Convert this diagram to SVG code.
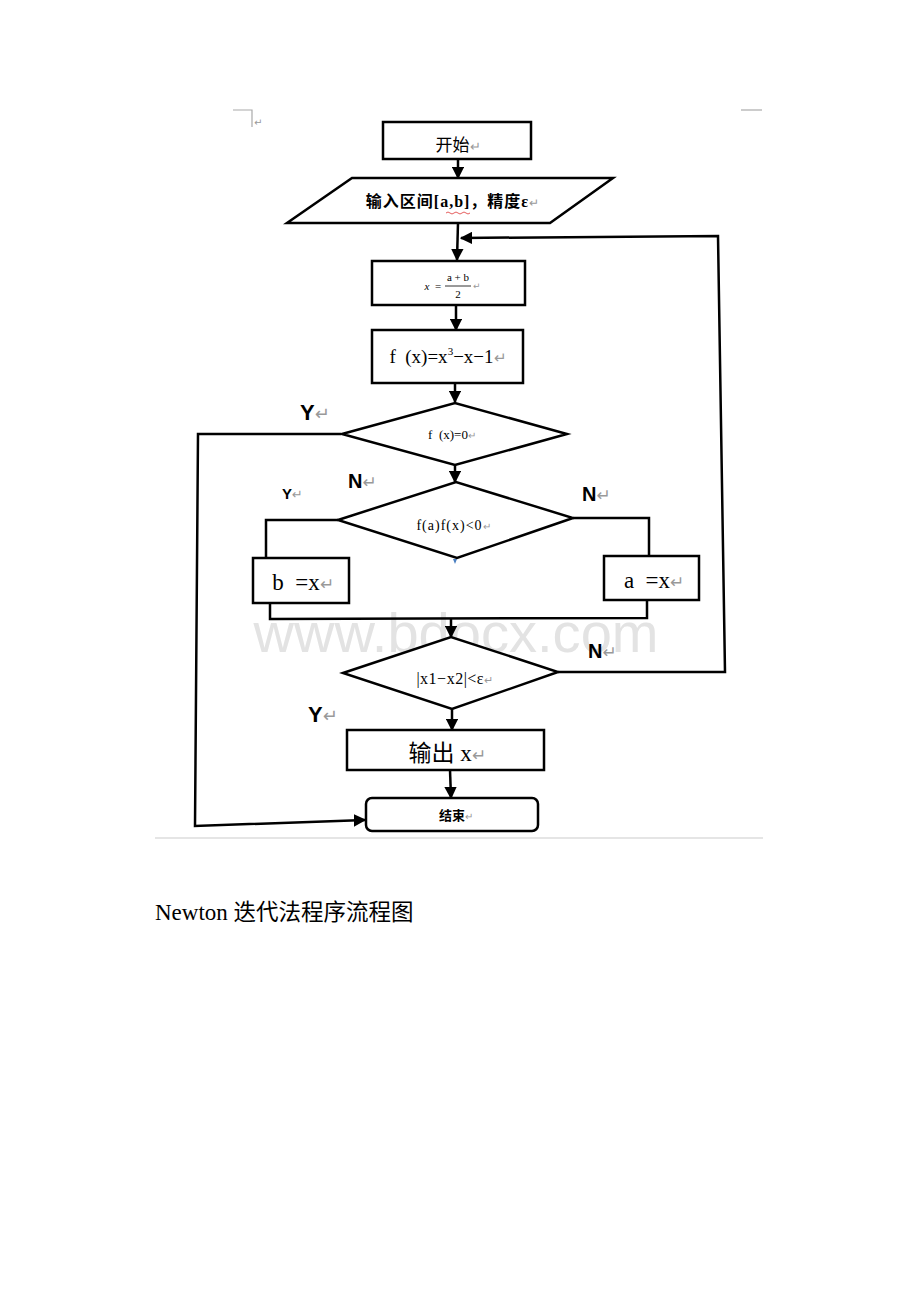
<svg xmlns="http://www.w3.org/2000/svg" width="920" height="1302" viewBox="0 0 920 1302">
<style>
.box{fill:#fff;stroke:#000;stroke-width:2.5}
.ln{fill:none;stroke:#000;stroke-width:2.5}
.t{font-family:"Liberation Serif","Noto Sans CJK SC",serif;fill:#000;text-anchor:middle;white-space:pre}
.yn{font-family:"Liberation Sans","DejaVu Sans",sans-serif;font-weight:bold;fill:#000}
.rm{fill:#999;font-weight:normal}
.mark{stroke:#aaa;stroke-width:1.2;fill:none}
</style>
<defs>
<marker id="ah" viewBox="0 0 10 10" refX="9" refY="5" markerWidth="5" markerHeight="5" orient="auto"><path d="M0,0 L10,5 L0,10 z" fill="#000"/></marker>
</defs>
<rect width="920" height="1302" fill="#fff"/>
<g id="page-marks">
<path class="mark" d="M233,110 H252 V127"/>
<text x="254" y="126" font-family="DejaVu Sans,sans-serif" font-size="10" fill="#999">↵</text>
<path class="mark" d="M741,110 H762"/>
<line x1="155" y1="838" x2="763" y2="838" stroke="#ddd" stroke-width="1.5"/>
</g>
<text x="456" y="652" font-family="Liberation Sans,sans-serif" font-size="56" fill="#e3e3e3" text-anchor="middle" textLength="405" lengthAdjust="spacingAndGlyphs">www.bdocx.com</text>
<g id="connectors">
<line class="ln" x1="458" y1="159" x2="458" y2="178" marker-end="url(#ah)"/>
<line class="ln" x1="458" y1="223" x2="457" y2="260" marker-end="url(#ah)"/>
<polyline class="ln" points="558,672 725,672 718,236 461,238" marker-end="url(#ah)"/>
<line class="ln" x1="456" y1="305" x2="456" y2="330" marker-end="url(#ah)"/>
<line class="ln" x1="455" y1="383" x2="455" y2="402" marker-end="url(#ah)"/>
<polyline class="ln" points="341,434 198,434 195,826 365,820" marker-end="url(#ah)"/>
<line class="ln" x1="455" y1="465" x2="455" y2="482" marker-end="url(#ah)"/>
<polyline class="ln" points="338,520 266,520 266,558"/>
<polyline class="ln" points="573,518 649,518 649,556"/>
<polyline class="ln" points="270,603 270,619 647,618 647,600"/>
<line class="ln" x1="451" y1="619" x2="451" y2="637" marker-end="url(#ah)"/>
<line class="ln" x1="452" y1="709" x2="452" y2="730" marker-end="url(#ah)"/>
<line class="ln" x1="450" y1="770" x2="451" y2="798" marker-end="url(#ah)"/>
<path d="M453,559 l4,0 l-2,5 z" fill="#4a7fc1"/>
</g>
<g id="start">
<rect class="box" x="383" y="122" width="148" height="37"/>
<text class="t" x="458" y="151" font-size="17">开始<tspan class="rm" font-size="13">↵</tspan></text>
</g>
<g id="input">
<polygon class="box" points="352,178 613,178 550,223 287,223"/>
<text class="t" x="453" y="207" font-size="16" font-weight="bold" letter-spacing="1">输入区间[a,b]，精度ε<tspan class="rm" font-size="12">↵</tspan></text>
<path d="M446,213 q2,-2 4,0 t4,0 t4,0 t4,0 t4,0 t4,0" stroke="#d33" stroke-width="0.8" fill="none"/>
</g>
<g id="mid">
<rect class="box" x="372" y="261" width="153" height="44"/>
<text class="t" x="427" y="290" font-size="11" font-style="italic">x</text>
<text class="t" x="438" y="290" font-size="11">=</text>
<text class="t" x="458" y="281" font-size="11">a + b</text>
<line x1="445" y1="286" x2="471" y2="286" stroke="#000" stroke-width="0.8"/>
<text class="t" x="458" y="298" font-size="11">2</text>
<text x="473" y="289" font-size="9" fill="#999" font-family="DejaVu Sans,sans-serif">↵</text>
</g>
<g id="fx">
<rect class="box" x="372" y="330" width="151" height="53"/>
<text class="t" x="448" y="363" font-size="19">f  (x)=x<tspan font-size="11" dy="-8">3</tspan><tspan dy="8">−x−1</tspan><tspan class="rm" font-size="15">↵</tspan></text>
</g>
<g id="dec1">
<polygon class="box" points="342,434 455,403 567,434 455,465"/>
<text class="t" x="452" y="439" font-size="13">f  (x)=0<tspan class="rm" font-size="10">↵</tspan></text>
<text class="yn" x="300" y="420" font-size="22">Y<tspan class="rm" font-size="18">↵</tspan></text>
<text class="yn" x="348" y="488" font-size="20">N<tspan class="rm" font-size="17">↵</tspan></text>
</g>
<g id="dec2">
<polygon class="box" points="338,520 456,482 573,518 457,558"/>
<text class="t" x="454" y="530" font-size="14" letter-spacing="1">f(a)f(x)&lt;0<tspan class="rm" font-size="10">↵</tspan></text>
<text class="yn" x="282" y="499" font-size="15">Y<tspan class="rm" font-size="13">↵</tspan></text>
<text class="yn" x="582" y="501" font-size="20">N<tspan class="rm" font-size="17">↵</tspan></text>
</g>
<g id="bx">
<rect class="box" x="253" y="558" width="96" height="45"/>
<text class="t" x="303" y="590" font-size="23">b  =x<tspan class="rm" font-size="17">↵</tspan></text>
</g>
<g id="ax">
<rect class="box" x="604" y="556" width="95" height="44"/>
<text class="t" x="654" y="588" font-size="23">a  =x<tspan class="rm" font-size="17">↵</tspan></text>
</g>
<g id="dec3">
<polygon class="box" points="343,673 451,637 558,672 452,709"/>
<text class="t" x="455" y="684" font-size="16" letter-spacing="0.5">|x1−x2|&lt;ε<tspan class="rm" font-size="11">↵</tspan></text>
<text class="yn" x="588" y="658" font-size="20">N<tspan class="rm" font-size="17">↵</tspan></text>
<text class="yn" x="308" y="722" font-size="22">Y<tspan class="rm" font-size="18">↵</tspan></text>
</g>
<g id="output">
<rect class="box" x="347" y="730" width="197" height="40"/>
<text class="t" x="447" y="761" font-size="23">输出 x<tspan class="rm" font-size="17">↵</tspan></text>
</g>
<g id="end">
<rect class="box" x="366" y="798" width="172" height="33" rx="6"/>
<text class="t" x="456" y="820" font-size="13" font-weight="bold">结束<tspan class="rm" font-size="10">↵</tspan></text>
</g>
<text x="155" y="920" font-family="Liberation Serif,Noto Sans CJK SC,serif" font-size="23" fill="#000" style="white-space:pre">Newton <tspan font-size="22.5">迭代法程序流程图</tspan></text>
</svg>
